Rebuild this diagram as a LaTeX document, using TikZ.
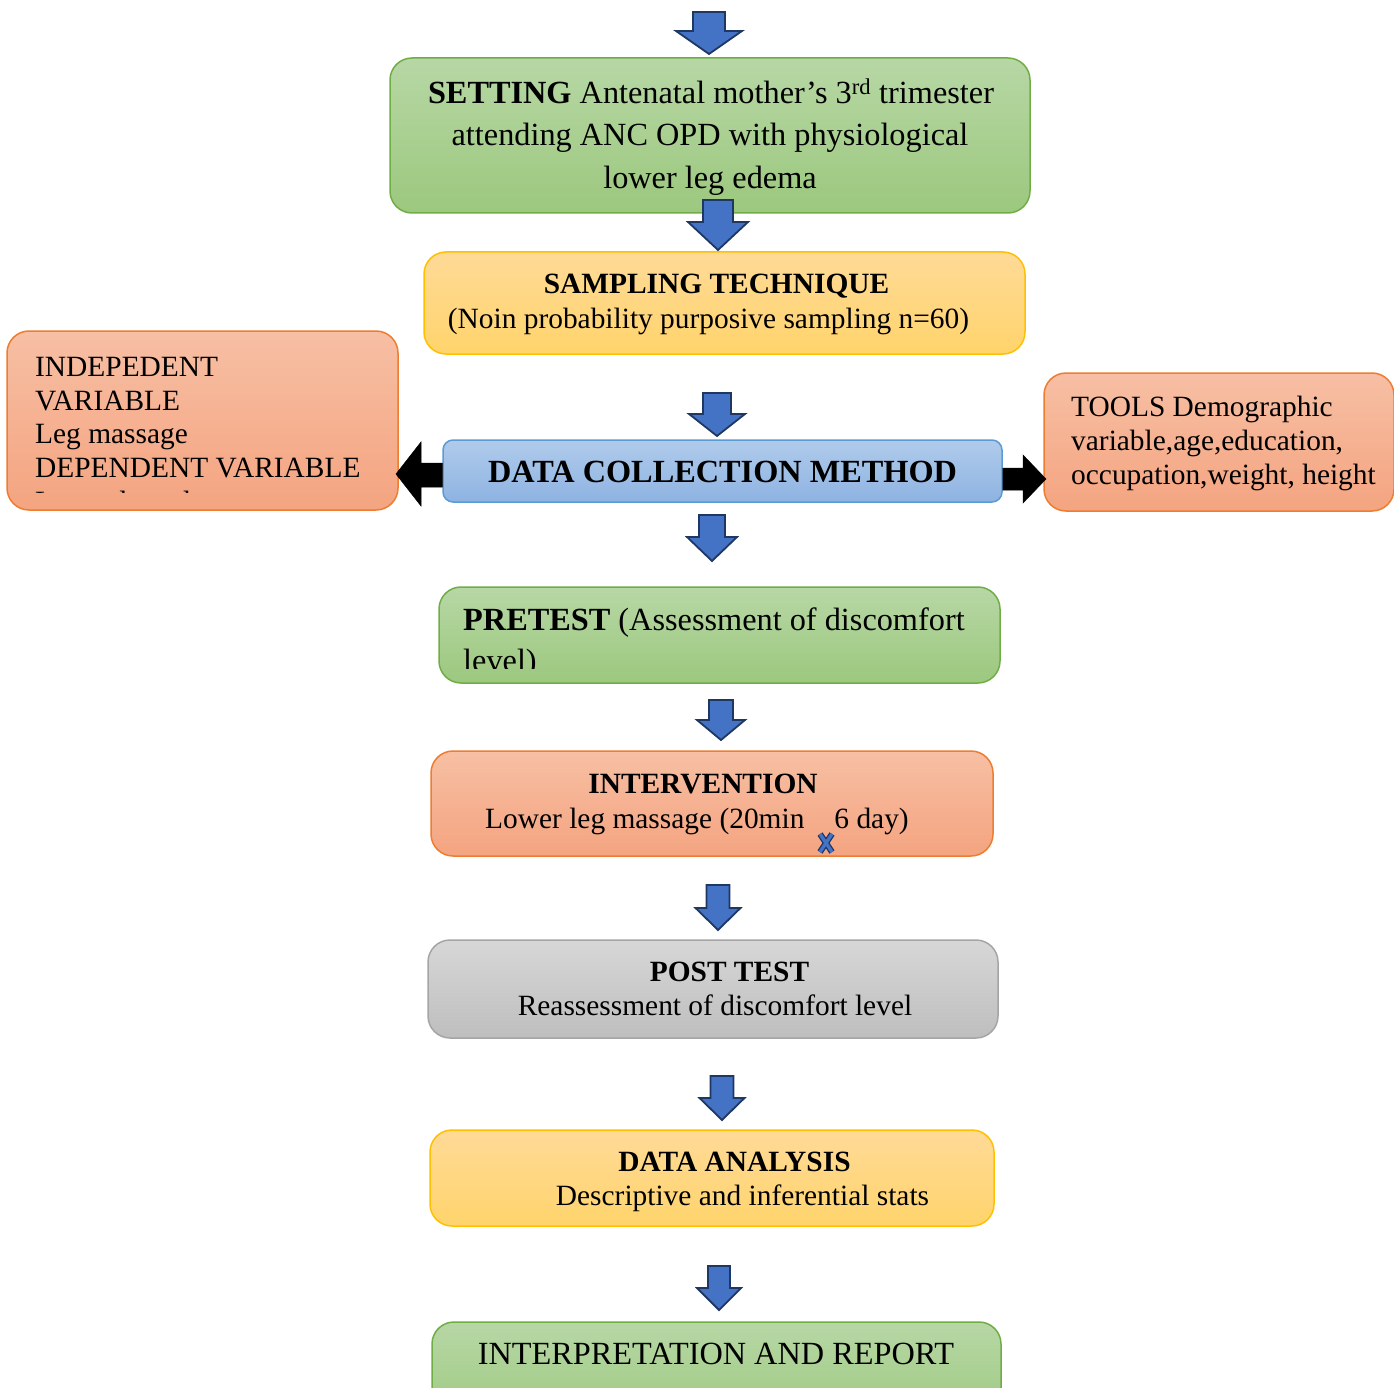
\documentclass[tikz,border=0pt]{standalone}
\usepackage{fontspec}
\setmainfont{Liberation Serif}
\definecolor{gline}{HTML}{70AD47}
\definecolor{gtop}{HTML}{B7D7A5}
\definecolor{gbot}{HTML}{9CC87E}
\definecolor{yline}{HTML}{FFC000}
\definecolor{ytop}{HTML}{FFDA97}
\definecolor{ybot}{HTML}{FFD46C}
\definecolor{oline}{HTML}{ED7D31}
\definecolor{otop}{HTML}{F7BFA4}
\definecolor{obot}{HTML}{F4A480}
\definecolor{bline}{HTML}{5B9BD5}
\definecolor{btop}{HTML}{B0CBEB}
\definecolor{bbot}{HTML}{8EB3E2}
\definecolor{kline}{HTML}{A5A5A5}
\definecolor{ktop}{HTML}{D7D7D7}
\definecolor{kbot}{HTML}{BEBEBE}
\definecolor{arrfill}{HTML}{4472C4}
\definecolor{arrline}{HTML}{1F3763}
\tikzset{
  boxbase/.style={rectangle, rounded corners=22pt, line width=1.5pt, inner sep=0pt},
  greenbox/.style={boxbase, draw=gline, top color=gtop, bottom color=gbot},
  yellowbox/.style={boxbase, draw=yline, top color=ytop, bottom color=ybot},
  orangebox/.style={boxbase, draw=oline, top color=otop, bottom color=obot},
  bluebox/.style={boxbase, rounded corners=10pt, draw=bline, top color=btop, bottom color=bbot},
  graybox/.style={boxbase, draw=kline, top color=ktop, bottom color=kbot},
  barrowstyle/.style={fill=arrfill, draw=arrline, line width=1.8pt, line join=miter},
  blackarrow/.style={fill=black, draw=black, line width=0.5pt},
  txt/.style={inner sep=0pt, font=\fontsize{29.4}{34}\selectfont},
  bigtxt/.style={inner sep=0pt, font=\fontsize{32.3}{41}\selectfont},
}
\newcommand{\blockarr}[6]{%
  \draw[barrowstyle] ({#1-#5},#2) -- ({#1+#5},#2) -- ({#1+#5},#3) -- ({#1+#6},#3)
    -- (#1,#4) -- ({#1-#6},#3) -- ({#1-#5},#3) -- cycle;}
\begin{document}
\begin{tikzpicture}[x=1pt,y=-1pt]
\useasboundingbox (0,0) rectangle (1394,1388);
\clip (0,0) rectangle (1394,1388);

% boxes
\node[greenbox, minimum width=640pt, minimum height=155pt] (setting) at (710,135.5) {};
\node[yellowbox, minimum width=601pt, minimum height=102pt] (sampling) at (724.5,303) {};
\node[orangebox, minimum width=391pt, minimum height=179pt] (indep) at (202.5,420.5) {};
\node[bluebox, minimum width=559pt, minimum height=62pt] (datacoll) at (722.5,471) {};
\node[orangebox, minimum width=350pt, minimum height=138pt] (tools) at (1219,442) {};
\node[greenbox, minimum width=561pt, minimum height=96pt] (pretest) at (719.5,635) {};
\node[orangebox, minimum width=562pt, minimum height=105pt] (interv) at (712,803.5) {};
\node[graybox, minimum width=570pt, minimum height=98pt] (posttest) at (713,989) {};
\node[yellowbox, minimum width=564pt, minimum height=96pt] (analysis) at (712,1178) {};
\node[greenbox, minimum width=569pt, minimum height=110pt] (interp) at (716.5,1377) {};

% blue block arrows
\blockarr{709}{12}{31}{54}{16}{33}
\blockarr{718}{200}{222}{250}{15}{30}
\blockarr{717}{393}{414}{436}{14}{28}
\blockarr{712}{515}{537}{561}{13}{25}
\blockarr{721}{700}{720}{740}{12}{24}
\blockarr{718}{885}{908}{930}{11.5}{22.5}
\blockarr{722}{1076}{1098}{1120}{11.5}{22.5}
\blockarr{719}{1266}{1288}{1310}{11}{22}

% black arrows
\coordinate (ltip) at (396,474);
\coordinate (rtip) at (1046,479);
\draw[blackarrow] (datacoll.west |- 0,463) -- (421,463) -- (421,442) -- (ltip) -- (421,506) -- (421,487) -- (datacoll.west |- 0,487) -- cycle;
\draw[blackarrow] (datacoll.east |- 0,468) -- (1023,468) -- (1023,455) -- (rtip) -- (1023,503) -- (1023,490) -- (datacoll.east |- 0,490) -- cycle;

% texts
\node[bigtxt, anchor=base] (t1a) at (711,104) {\textbf{SETTING} Antenatal mother’s 3\textsuperscript{rd} trimester};
\node[bigtxt, anchor=base] (t1b) at (710,146) {attending ANC OPD with physiological};
\node[bigtxt, anchor=base] (t1c) at (710,189) {lower leg edema};

\node[txt, anchor=base] (t2a) at (716.5,294) {\textbf{SAMPLING TECHNIQUE}};
\node[txt, anchor=base] (t2b) at (708.5,328) {(Noin probability purposive sampling n=60)};

\begin{scope}
\clip (7,331) rectangle (398,492);
\node[txt, anchor=base west] (t3a) at (35,376) {INDEPEDENT};
\node[txt, anchor=base west] (t3b) at (35,410) {VARIABLE};
\node[txt, anchor=base west] (t3c) at (35,443) {Leg massage};
\node[txt, anchor=base west] (t3d) at (35,477) {DEPENDENT VARIABLE};
\node[txt, anchor=base west] (t3e) at (35,511) {Lower leg edema};
\end{scope}

\node[bigtxt, anchor=base] (t4) at (722.5,482) {\textbf{DATA COLLECTION METHOD}};

\node[txt, anchor=base west] (t5a) at (1071,416) {TOOLS Demographic};
\node[txt, anchor=base west] (t5b) at (1071,450) {variable,age,education,};
\node[txt, anchor=base west] (t5c) at (1071,484) {occupation,weight, height};

\begin{scope}
\clip (439,587) rectangle (1000,668);
\node[bigtxt, anchor=base west] (t6a) at (463,630) {\textbf{PRETEST} (Assessment of discomfort};
\node[bigtxt, anchor=base west] (t6b) at (463,671) {level)};
\end{scope}

\node[txt, anchor=base] (t7a) at (703,793) {\textbf{INTERVENTION}};
\node[txt, anchor=base west] (t7b) at (485,828) {Lower leg massage (20min\hspace{30pt}6 day)};
\draw[arrline, line width=6pt] (820,834) -- (832,852) (832,834) -- (820,852);
\draw[arrfill, line width=3.4pt] (820,834) -- (832,852) (832,834) -- (820,852);

\node[txt, anchor=base] (t8a) at (729.5,981) {\textbf{POST TEST}};
\node[txt, anchor=base] (t8b) at (715,1015) {Reassessment of discomfort level};

\node[txt, anchor=base] (t9a) at (734.5,1171) {\textbf{DATA ANALYSIS}};
\node[txt, anchor=base] (t9b) at (742.5,1205) {Descriptive and inferential stats};

\node[bigtxt, anchor=base] (t10) at (716,1364) {INTERPRETATION AND REPORT};
\end{tikzpicture}
\end{document}
